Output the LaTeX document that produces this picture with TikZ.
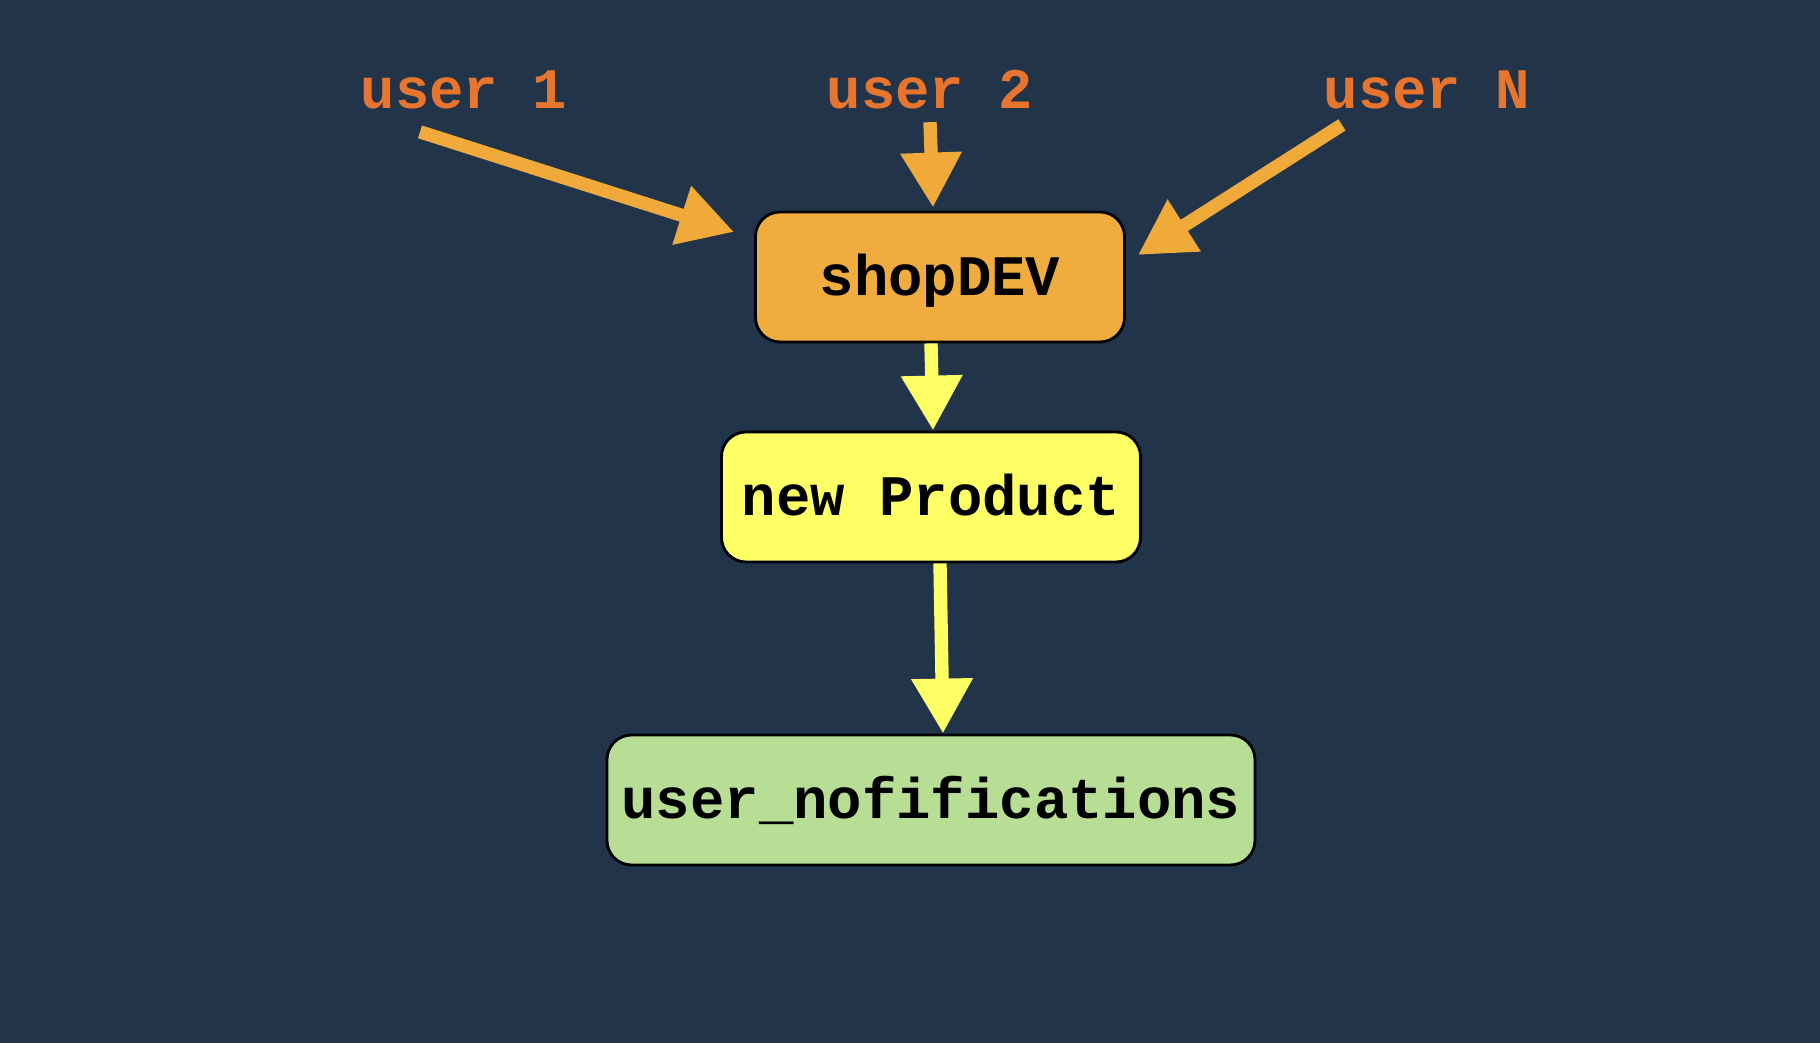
\documentclass[tikz,border=0pt]{standalone}
\usepackage{fontspec}
\usepackage{tikz}
\usetikzlibrary{positioning,arrows.meta,calc,backgrounds}
\newfontfamily\diagmono{Liberation Mono}
\definecolor{bgnavy}{HTML}{22344A}
\definecolor{shoporange}{HTML}{F0AC3E}
\definecolor{arroworange}{HTML}{F0AA3A}
\definecolor{labelorange}{HTML}{E8752E}
\definecolor{prodyellow}{HTML}{FFFF66}
\definecolor{notifgreen}{HTML}{B8DE96}
\tikzset{
  diagbox/.style={draw=black, line width=0.8pt, rounded corners=7pt, align=center,
    font=\diagmono\bfseries\fontsize{16.3}{19}\selectfont, minimum height=13mm, inner sep=2pt,
    text depth=0.5mm},
  diaguser/.style={text=labelorange, font=\diagmono\bfseries\fontsize{16.3}{19}\selectfont, inner sep=2pt},
  diagarrow/.style={-{Triangle[length=5.5mm, width=5.8mm]}, line width=3.8pt},
}

\begin{document}
\begin{tikzpicture}
  \fill[bgnavy] (0,0) rectangle (18.20,-10.43);
  \useasboundingbox (0,0) rectangle (18.20,-10.43);
  \node[diagbox, fill=shoporange, minimum width=36.9mm] (shop) at (9.40,-2.77) {shopDEV};
  \node[diagbox, fill=prodyellow, minimum width=41.9mm] (prod) at (9.31,-4.97) {new Product};
  \node[diagbox, fill=notifgreen, minimum width=64.8mm] (notif) at (9.31,-8.00) {user\_nofifications};
  \node[diaguser] (user1) at (4.64,-0.90) {user 1};
  \node[diaguser] (user2) at (9.30,-0.90) {user 2};
  \node[diaguser] (userN) at (14.27,-0.90) {user N};
  % users -> shopDEV
  \draw[diagarrow, arroworange] ([xshift=-4.4mm,yshift=-1.5mm]user1.south) -- ([xshift=-2mm,yshift=4.5mm]shop.west);
  \draw[diagarrow, arroworange] ([yshift=-0.5mm]user2.south) -- ([xshift=-0.7mm,yshift=0.3mm]shop.north);
  \draw[diagarrow, arroworange] ([xshift=-8.5mm,yshift=-0.8mm]userN.south) -- ([xshift=1.2mm,yshift=2.2mm]shop.east);
  % shopDEV -> new Product -> user_nofifications
  \draw[diagarrow, prodyellow] ([xshift=-0.9mm]shop.south) -- ([xshift=0.2mm]prod.north);
  \draw[diagarrow, prodyellow] ([xshift=0.9mm]prod.south) -- ([xshift=1.2mm]notif.north);
\end{tikzpicture}
\end{document}
